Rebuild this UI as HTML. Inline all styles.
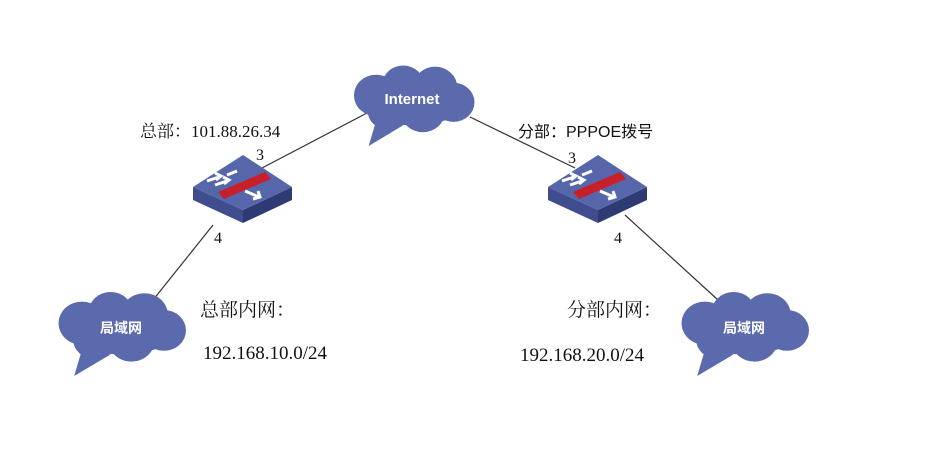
<!DOCTYPE html>
<html><head><meta charset="utf-8"><style>
html,body{margin:0;padding:0;background:#fff;}
svg{display:block}
text{font-family:"Liberation Serif","Noto Serif CJK SC",serif;fill:#111}
.s{font-family:"Liberation Sans","Noto Sans CJK SC",sans-serif}
</style></head><body>
<svg width="952" height="470" viewBox="0 0 952 470" xmlns="http://www.w3.org/2000/svg">
<defs>
<g id="cloud" fill="#5b6aad">
<ellipse cx="0" cy="0" rx="44" ry="22"/>
<circle cx="-30" cy="-4" r="18"/>
<circle cx="-8" cy="-13" r="17"/>
<circle cx="18" cy="-11" r="18"/>
<circle cx="33" cy="2" r="17"/>
<circle cx="8" cy="10" r="18"/>
<circle cx="-20" cy="9" r="17"/>
<polygon points="-30,18 -8,22 -36,40"/>
</g>
<g id="fw">
<polygon points="0,32 50,55 50,68 0,45" fill="#3f4d8e"/>
<polygon points="50,55 99,32 99,45 50,68" fill="#2e3a74"/>
<polygon points="0,32 50,0 99,32 50,55" fill="#5566aa"/>
<polygon points="25,37 72,17 78,24 31,44" fill="#c8202a"/>
<g stroke="#fff" stroke-width="3" fill="none">
<path d="M14,26 l12,-4 M22,18 l6,3 -5,4"/>
<path d="M22,30 l12,-4 M30,22 l6,3 -5,4"/>
<path d="M34,20 l10,-4"/>
<path d="M52,36 l14,6 M60,44 l7,-2 -2,-6"/>
</g>
</g>
</defs>
<g stroke="#333" stroke-width="1.2">
<line x1="367" y1="113" x2="262" y2="168"/>
<line x1="470" y1="117" x2="575" y2="168"/>
<line x1="213" y1="225" x2="153" y2="300"/>
<line x1="625" y1="215" x2="718" y2="300"/>
</g>
<use href="#cloud" transform="translate(413,100) scale(1.23,1.15)"/>
<text x="412" y="104" class="s" text-anchor="middle" font-size="15" font-weight="bold" style="fill:#fff">Internet</text>
<use href="#fw" transform="translate(193,155)"/>
<use href="#fw" transform="translate(548,155)"/>
<use href="#cloud" transform="translate(121,328) scale(1.3,1.2)"/>
<text x="121" y="333" class="s" text-anchor="middle" font-size="14" font-weight="bold" style="fill:#fff">局域网</text>
<use href="#cloud" transform="translate(744,328) scale(1.3,1.2)"/>
<text x="744" y="333" class="s" text-anchor="middle" font-size="14" font-weight="bold" style="fill:#fff">局域网</text>
<text x="140" y="137" font-size="17">总部：101.88.26.34</text>
<text x="256" y="160" font-size="16">3</text>
<text x="214" y="243" font-size="16">4</text>
<text x="518" y="137" class="s" font-size="16">分部：PPPOE拨号</text>
<text x="568" y="163" font-size="16">3</text>
<text x="614" y="243" font-size="16">4</text>
<text x="200" y="316" font-size="19">总部内网：</text>
<text x="203" y="359" font-size="19">192.168.10.0/24</text>
<text x="567" y="316" font-size="19">分部内网：</text>
<text x="520" y="361" font-size="19">192.168.20.0/24</text>
</svg>
</body></html>
